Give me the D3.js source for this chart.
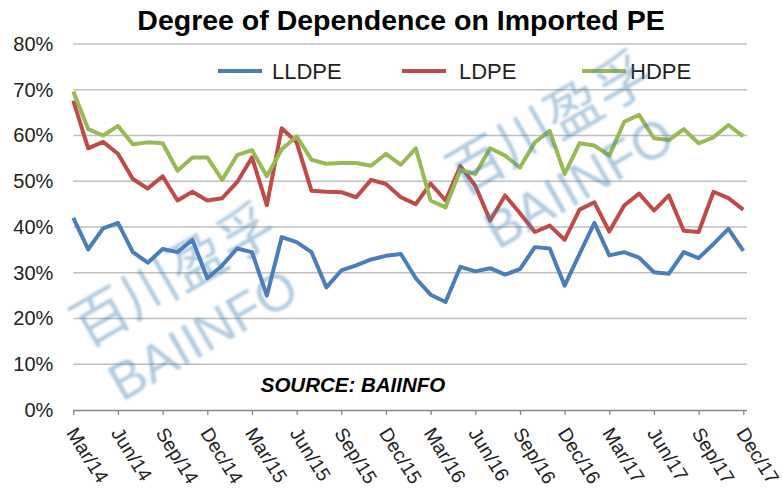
<!DOCTYPE html>
<html>
<head>
<meta charset="utf-8">
<script src="https://cdnjs.cloudflare.com/ajax/libs/d3/7.8.5/d3.min.js"></script>
<style>
  html, body { margin: 0; padding: 0; background: #fff; }
  svg { display: block; }
</style>
</head>
<body>
<svg id="chart" width="783" height="491"></svg>
<script>
const months = ["Mar","Apr","May","Jun","Jul","Aug","Sep","Oct","Nov","Dec","Jan","Feb"];
const startYear = 14;
const categories = d3.range(46).map(i => {
  const m = (2 + i) % 12;
  const yr = startYear + Math.floor((2 + i) / 12);
  return months[(m + 10) % 12] + "/" + yr;
});
const tickLabels = ["Mar/14","Jun/14","Sep/14","Dec/14","Mar/15","Jun/15","Sep/15","Dec/15",
  "Mar/16","Jun/16","Sep/16","Dec/16","Mar/17","Jun/17","Sep/17","Dec/17"];

const lldpe = [42.0,35.1,39.7,40.9,34.5,32.2,35.2,34.5,37.2,28.8,31.6,35.3,34.5,25.0,37.8,36.7,
  34.5,26.8,30.5,31.6,32.9,33.7,34.1,28.8,25.2,23.6,31.3,30.3,31.0,29.6,30.8,35.6,35.3,27.2,
  34.1,40.9,33.8,34.5,33.3,30.1,29.8,34.5,33.2,36.3,39.6,34.8];
const ldpe = [67.6,57.2,58.6,56.0,50.5,48.4,51.1,45.8,47.7,45.8,46.3,49.8,55.2,44.8,61.6,58.5,
  47.9,47.7,47.6,46.5,50.3,49.4,46.5,45.0,49.5,45.8,53.3,49.0,41.4,46.9,43.0,38.9,40.3,37.2,
  43.8,45.4,39.0,44.7,47.3,43.6,46.9,39.2,38.9,47.7,46.3,43.8];
const hdpe = [69.6,61.4,60.0,62.1,58.1,58.5,58.3,52.3,55.2,55.2,50.3,55.7,56.8,51.1,57.0,59.8,
  54.7,53.8,54.0,54.0,53.4,56.0,53.6,57.2,45.8,44.3,52.5,51.6,57.2,55.6,53.0,58.5,61.0,51.6,
  58.3,57.8,55.6,63.0,64.5,59.4,59.0,61.4,58.3,59.6,62.3,59.8];
const seriesNames = ["LLDPE","LDPE","HDPE"];
const seriesColors = ["#4A7EBB","#BE4B48","#98B954"];
const yTicks = [0,10,20,30,40,50,60,70,80];

const series = [lldpe, ldpe, hdpe].map((v, k) => ({name: seriesNames[k], color: seriesColors[k], values: v}));

const svg = d3.select("#chart");
const pLeft = 73.3, pRight = 743.3, pTop = 44, pBottom = 410;
const x = d3.scalePoint().domain(categories).range([pLeft, pRight]);
const y = d3.scaleLinear().domain([0, 80]).range([pBottom, pTop]);
const font = "Liberation Sans, Arial, sans-serif";

// gridlines
svg.append("g").selectAll("line").data(yTicks.filter(d => d > 0)).join("line")
  .attr("x1", pLeft).attr("x2", 747).attr("y1", d => y(d)).attr("y2", d => y(d))
  .attr("stroke", "#BFBFBF").attr("stroke-width", 1.3);

// y axis labels
const yAxis = d3.axisLeft(y).tickValues(yTicks).tickFormat(d => d + "%").tickSize(0).tickPadding(20);
const ya = svg.append("g").attr("transform", `translate(${pLeft},0)`).call(yAxis);
ya.select(".domain").remove();
ya.selectAll("text").attr("font-family", font).attr("font-size", 20).attr("fill", "#222");

// x axis
const xAxis = d3.axisBottom(x).tickValues(tickLabels).tickSize(5).tickSizeOuter(0).tickFormat(d => d);
const xa = svg.append("g").attr("transform", `translate(0,${pBottom})`).call(xAxis);
xa.select(".domain").attr("stroke", "#868686").attr("stroke-width", 1.3).attr("d", `M${pLeft},0.5H747`);
xa.selectAll(".tick line").attr("stroke", "#868686").attr("stroke-width", 1.3).attr("y1", 0).attr("y2", 5);
xa.selectAll("text")
  .attr("font-family", font).attr("font-size", 19.5).attr("fill", "#222")
  .attr("text-anchor", "start").attr("dy", null).attr("y", 0)
  .attr("transform", "translate(-8,23) rotate(58)");

// lines
const line = d3.line().x((d, i) => x(categories[i])).y(d => y(d));
svg.append("g").selectAll("path").data(series).join("path")
  .attr("d", d => line(d.values))
  .attr("fill", "none").attr("stroke", d => d.color).attr("stroke-width", 4)
  .attr("stroke-linejoin", "round");

// title
svg.append("text").attr("x", 401).attr("y", 30).attr("text-anchor", "middle")
  .attr("font-family", font).attr("font-weight", "bold").attr("font-size", 28.5)
  .attr("fill", "#000").text("Degree of Dependence on Imported PE");

// legend
const legendLineX = [218, 402, 582];
const legendTextX = [272, 459, 630];
const lg = svg.append("g").selectAll("g").data(series).join("g");
lg.append("line").attr("x1", (d, i) => legendLineX[i]).attr("x2", (d, i) => legendLineX[i] + 44)
  .attr("y1", 71).attr("y2", 71).attr("stroke", d => d.color).attr("stroke-width", 4);
lg.append("text").attr("x", (d, i) => legendTextX[i]).attr("y", 79).text(d => d.name)
  .attr("font-family", font).attr("font-size", 22).attr("fill", "#222");

// source
svg.append("text").attr("x", 353).attr("y", 392).attr("text-anchor", "middle")
  .attr("font-family", font).attr("font-weight", "bold").attr("font-style", "italic")
  .attr("font-size", 20.5).attr("fill", "#000").text("SOURCE: BAIINFO");

// watermark
const defs = svg.append("defs");
defs.append("filter").attr("id", "blur").append("feGaussianBlur").attr("stdDeviation", 0.9);
const wmPos = [[86, 348], [462, 196]];
wmPos.forEach(([wx, wy]) => {
  const g = svg.append("g").attr("transform", `translate(${wx},${wy}) rotate(-30)`)
    .attr("fill", "rgb(70,130,180)").attr("fill-opacity", 0.42).attr("filter", "url(#blur)");
  g.append("text").attr("x", 0).attr("y", 0).attr("font-family", "Noto Sans CJK SC").attr("font-size", 56)
    .text("百川盈孚");
  g.append("text").attr("x", 4).attr("y", 65).attr("font-family", font).attr("font-size", 52)
    .text("BAIINFO");
});
</script>
</body>
</html>
